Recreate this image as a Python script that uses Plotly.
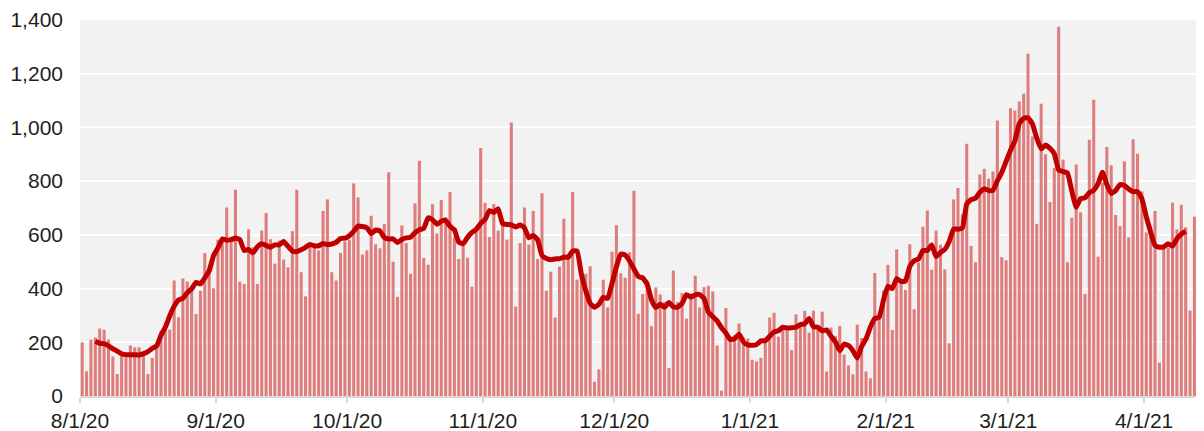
import pandas as pd
import plotly.graph_objects as go

start_date = "2020-08-01"
daily_values = [
    200, 92, 210, 218, 251, 247, 210, 147, 82, 150,
    144, 188, 181, 181, 150, 82, 142, 180, 243, 262,
    247, 430, 293, 438, 426, 407, 305, 392, 532, 460,
    401, 582, 590, 702, 591, 768, 426, 417, 621, 554,
    417, 616, 681, 584, 493, 579, 508, 479, 614, 768,
    461, 371, 560, 560, 542, 689, 732, 461, 430, 533,
    576, 582, 792, 739, 527, 542, 671, 565, 550, 640,
    833, 500, 369, 635, 569, 455, 717, 876, 514, 489,
    714, 605, 730, 666, 760, 591, 510, 560, 515, 407,
    628, 923, 719, 592, 715, 616, 638, 582, 1018, 333,
    569, 702, 564, 689, 510, 755, 392, 463, 292, 482,
    660, 529, 760, 433, 460, 455, 483, 53, 99, 433,
    330, 537, 636, 457, 440, 535, 764, 306, 380, 430,
    260, 404, 378, 350, 104, 467, 350, 383, 288, 374,
    448, 330, 405, 410, 389, 188, 20, 328, 220, 225,
    270, 219, 214, 135, 129, 142, 213, 292, 310, 221,
    250, 244, 171, 304, 271, 317, 236, 318, 261, 314,
    91, 255, 224, 261, 154, 114, 81, 266, 216, 91,
    66, 458, 310, 392, 488, 246, 546, 424, 395, 565,
    323, 497, 630, 691, 470, 616, 563, 471, 196, 732,
    775, 676, 939, 559, 498, 825, 846, 809, 836, 1026,
    517, 505, 1071, 1063, 1097, 1125, 1274, 966, 641, 1088,
    900, 722, 850, 1375, 880, 498, 664, 862, 684, 380,
    954, 1103, 519, 795, 927, 859, 674, 632, 874, 591,
    956, 902, 762, 609, 634, 689, 124, 550, 552, 720,
    620, 712, 628, 318, 668, 632,
]
tick_dates = ["2020-08-01", "2020-09-01", "2020-10-01", "2020-11-01", "2020-12-01",
              "2021-01-01", "2021-02-01", "2021-03-01", "2021-04-01"]
tick_labels = ["8/1/20", "9/1/20", "10/1/20", "11/1/20", "12/1/20",
               "1/1/21", "2/1/21", "3/1/21", "4/1/21"]
y_ticks = [0, 200, 400, 600, 800, 1000, 1200, 1400]

dates = pd.date_range(start_date, periods=len(daily_values), freq="D")
series = pd.Series(daily_values, index=dates, dtype=float)
avg7 = series.rolling(7, center=True).mean()

# bars sit between day boundaries (ticks on day starts)
centers = dates + pd.Timedelta(hours=12)

fig = go.Figure()
fig.add_trace(go.Bar(
    x=centers, y=series.values,
    marker=dict(color="#DF7D7D", line=dict(width=0)),
    showlegend=False,
))
fig.add_trace(go.Scatter(
    x=centers, y=avg7.values, mode="lines",
    line=dict(color="#C00000", width=5, shape="spline", smoothing=0.4),
    showlegend=False,
))

font_family = "Liberation Sans, Arial, sans-serif"
# page body has an 8px default margin, so the figure is sized to fill the rest
fig.update_layout(
    width=1196, height=423,
    margin=dict(l=72, r=3, t=12, b=35),
    paper_bgcolor="white",
    plot_bgcolor="#F2F2F2",
    bargap=0.3,
    font=dict(family=font_family, size=21, color="#1E1E1E"),
    xaxis=dict(
        type="date",
        automargin=False,
        range=[dates[0], dates[-1] + pd.Timedelta(days=1)],
        tickvals=pd.to_datetime(tick_dates),
        ticktext=tick_labels,
        ticks="outside", ticklen=5, tickwidth=1.5, tickcolor="#D9D9D9",
        showline=True, linecolor="#D9D9D9", linewidth=1.5,
        showgrid=False, zeroline=False,
        ticklabelstandoff=0,
    ),
    yaxis=dict(
        automargin=False,
        range=[0, 1400],
        tickvals=y_ticks,
        tickformat=",",
        showgrid=True, gridcolor="white", gridwidth=1.5,
        zeroline=False, showline=False,
        ticks="", ticklabelstandoff=16,
    ),
)

fig.write_html("out.html")
